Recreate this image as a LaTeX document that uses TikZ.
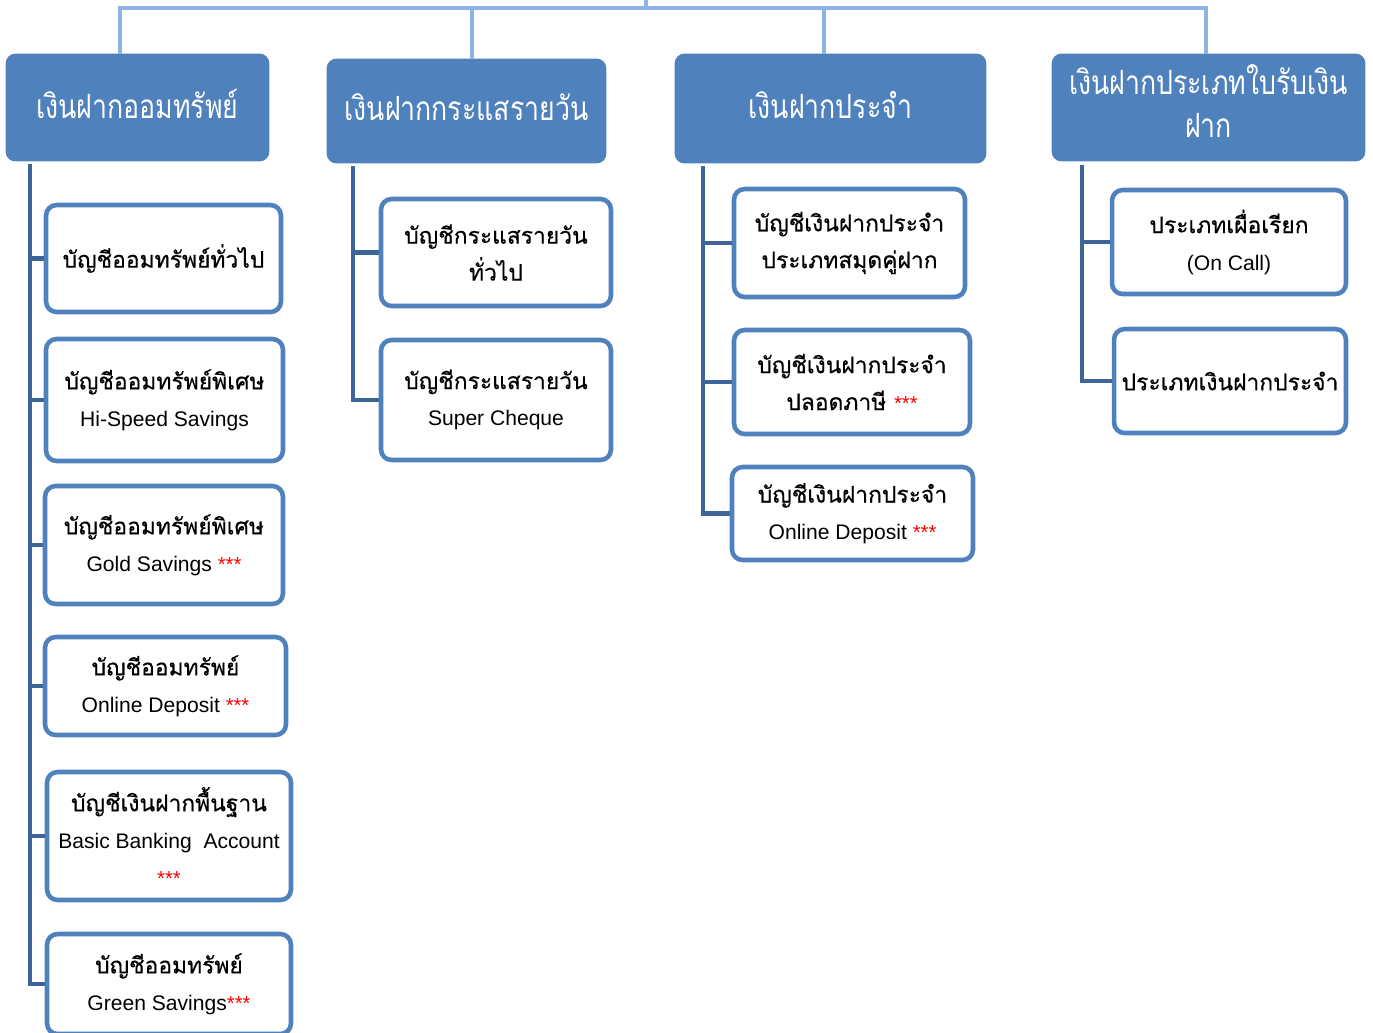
\documentclass[tikz,border=0pt]{standalone}
\usepackage{fontspec}
\setmainfont{Liberation Sans}
\newfontfamily\thai[Script=Thai,FakeBold=0.5]{Loma}
\newfontfamily\thaihead[Script=Thai,FakeStretch=0.8]{Loma}
\definecolor{hdr}{HTML}{4F81BD}
\definecolor{busc}{HTML}{8DB4E2}
\definecolor{spinec}{HTML}{3E6598}
\tikzset{
 hbox/.style={draw=hdr, fill=hdr, rounded corners=5pt, line width=1pt, text=white, align=center, font=\thaihead\fontsize{19}{24.4}\selectfont, inner sep=0pt},
 cbox/.style={draw=hdr, fill=white, rounded corners=6pt, line width=2.6pt, align=center, font=\thai\fontsize{13}{21}\selectfont, inner sep=0pt},
 busline/.style={draw=busc, line width=2.8pt},
 spineline/.style={draw=spinec, line width=2.8pt},
}
\newcommand{\en}[1]{{\rmfamily\fontsize{12}{21}\selectfont #1}}
\newcommand{\stars}{{\rmfamily\fontsize{11.5}{10}\selectfont\color{red}***}}
\newcommand{\up}[1]{\raisebox{0.15cm}{#1}}
\begin{document}
\begin{tikzpicture}[x=0.02cm,y=-0.02cm]
\useasboundingbox (0,0) rectangle (1373,1032);
% headers
\node[hbox, minimum width=5.24cm, minimum height=2.12cm] (H1) at (137.5,107.5) {\up{เงินฝากออมทรัพย์}};
\node[hbox, minimum width=5.56cm, minimum height=2.06cm] (H2) at (466.5,111) {\up{เงินฝากกระแสรายวัน}};
\node[hbox, minimum width=6.20cm, minimum height=2.16cm] (H3) at (830.5,108.5) {\up{เงินฝากประจำ}};
\node[hbox, minimum width=6.24cm, minimum height=2.12cm] (H4) at (1208.5,107.5) {\raisebox{0.14cm}{\begin{tabular}{@{}c@{}}เงินฝากประเภทใบรับเงิน\\ฝาก\end{tabular}}};
% bus
\coordinate (root) at (646,0);
\coordinate (bus) at (646,8);
\draw[busline] (root) -- (bus);
\draw[busline] (bus) -| ([xshift=-0.35cm]H1.north);
\draw[busline] (bus) -| ([xshift=0.11cm]H2.north);
\draw[busline] (bus) -| ([xshift=-0.13cm]H3.north);
\draw[busline] (bus) -| ([xshift=-0.05cm]H4.north);
% column A
\node[cbox, minimum width=4.70cm, minimum height=2.14cm] (A1) at (163.5,258.5) {บัญชีออมทรัพย์ทั่วไป};
\node[cbox, minimum width=4.74cm, minimum height=2.44cm] (A2) at (164.5,400) {บัญชีออมทรัพย์พิเศษ\\\en{Hi-Speed Savings}};
\node[cbox, minimum width=4.76cm, minimum height=2.36cm] (A3) at (164,545) {บัญชีออมทรัพย์พิเศษ\\\en{Gold Savings \stars}};
\node[cbox, minimum width=4.82cm, minimum height=1.96cm] (A4) at (165.5,686) {บัญชีออมทรัพย์\\\en{Online Deposit \stars}};
\node[cbox, minimum width=4.88cm, minimum height=2.56cm] (A5) at (169,836) {บัญชีเงินฝากพื้นฐาน\\\en{Basic Banking~~Account}\\\stars};
\node[cbox, minimum width=4.88cm, minimum height=2.00cm] (A6) at (169,984) {บัญชีออมทรัพย์\\\en{Green Savings\stars}};
% column B
\node[cbox, minimum width=4.60cm, minimum height=2.14cm] (B1) at (496,252.5) {บัญชีกระแสรายวัน\\ทั่วไป};
\node[cbox, minimum width=4.60cm, minimum height=2.40cm] (B2) at (496,400) {บัญชีกระแสรายวัน\\\en{Super Cheque}};
% column C
\node[cbox, minimum width=4.62cm, minimum height=2.16cm] (C1) at (849.5,243) {บัญชีเงินฝากประจำ\\ประเภทสมุดคู่ฝาก};
\node[cbox, minimum width=4.72cm, minimum height=2.08cm] (C2) at (852,382) {บัญชีเงินฝากประจำ\\ปลอดภาษี \stars};
\node[cbox, minimum width=4.82cm, minimum height=1.86cm] (C3) at (852.5,513.5) {บัญชีเงินฝากประจำ\\\en{Online Deposit \stars}};
% column D
\node[cbox, minimum width=4.68cm, minimum height=2.08cm] (D1) at (1229,242) {ประเภทเผื่อเรียก\\\en{(On Call)}};
\node[cbox, minimum width=4.64cm, minimum height=2.08cm] (D2) at (1230,381) {ประเภทเงินฝากประจำ};
% spines
\coordinate (sA) at (30,164);
\coordinate (sB) at (353,166);
\coordinate (sC) at (703,166);
\coordinate (sD) at (1082,165);
\foreach \c in {A1,A2,A3,A4,A5,A6} \draw[spineline] (sA) |- (\c.west);
\foreach \c in {B1,B2} \draw[spineline] (sB) |- (\c.west);
\foreach \c in {C1,C2,C3} \draw[spineline] (sC) |- (\c.west);
\foreach \c in {D1,D2} \draw[spineline] (sD) |- (\c.west);
\end{tikzpicture}
\end{document}
